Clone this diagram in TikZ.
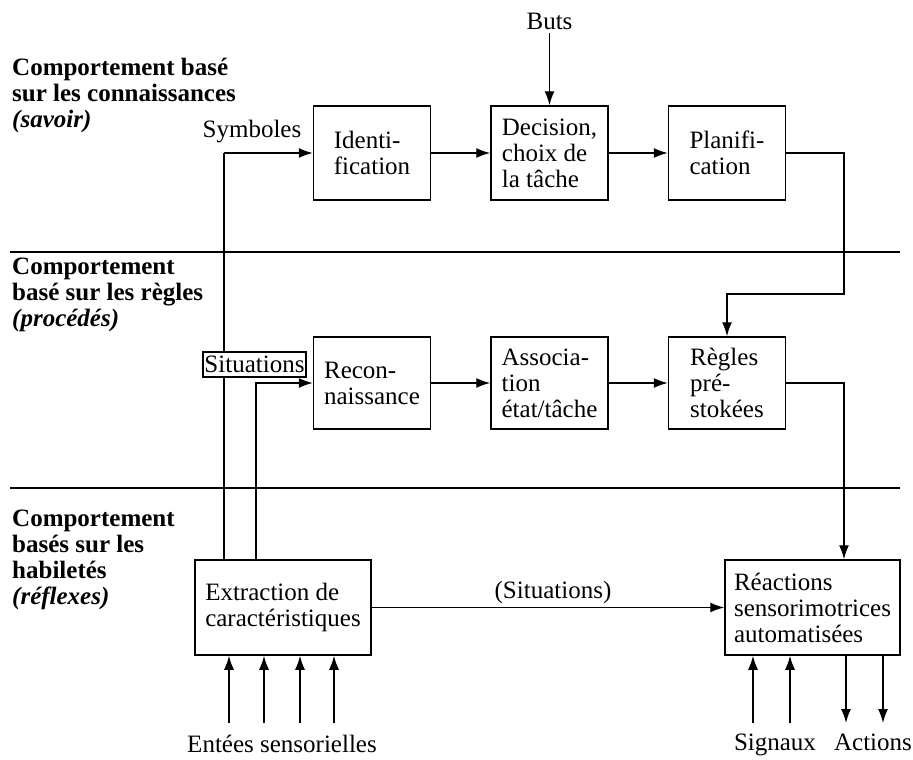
\documentclass[tikz,border=0pt]{standalone}
\usepackage{fontspec}
\setmainfont{Liberation Serif}
\usetikzlibrary{positioning, arrows.meta}

\begin{document}
\begin{tikzpicture}[x=1pt, y=-1pt,
    font=\fontsize{25}{26}\selectfont,
    box/.style={draw, line width=1.5pt, minimum width=117pt, minimum height=94pt, inner sep=0pt, align=left},
    flow/.style={line width=1.4pt, -{Latex[length=14pt,width=10pt]}},
    wire/.style={line width=1.4pt},
    level/.style={font=\fontsize{25}{26}\selectfont\bfseries, align=left, anchor=north west, inner sep=0pt}]
    \useasboundingbox (0,0) rectangle (913,760);

    % levels of behaviour
    \node [level] (savoir) at (12,58) {Comportement basé\\sur les connaissances\\\textit{(savoir)}};
    \node [level] (procedes) at (12,258) {Comportement\\basé sur les règles\\\textit{(procédés)}};
    \node [level] (reflexes) at (12,510) {Comportement\\basés sur les\\habiletés\\\textit{(réflexes)}};
    \draw [wire] (10,252) -- (900,252);
    \draw [wire] (10,488) -- (900,488);

    % knowledge row
    \node [box] (ident) at (372,153) {Identi-\\fication};
    \node [box, right=59pt of ident] (decision) {Decision,\\choix de\\la tâche};
    \node [box, right=59pt of decision] (planif) {Planifi-\\cation};
    \node [above=72pt of decision, inner sep=3pt] (buts) {Buts};

    % rules row
    \node [box, minimum height=92pt] (recon) at (372,383) {Recon-\\naissance};
    \node [box, minimum height=92pt, right=59pt of recon] (assoc) {Associa-\\tion\\état/tâche};
    \node [box, minimum height=92pt, right=59pt of assoc] (regles) {Règles\\pré-\\stokées};

    % skills row
    \node [box, minimum width=176pt, minimum height=95pt] (extract) at (283,607.5) {Extraction de\\caractéristiques};
    \node [box, minimum width=175pt, minimum height=95pt] (reac) at (812.5,607.5) {Réactions\\sensorimotrices\\automatisées};

    \coordinate (sym) at (224,153);
    \coordinate (ex2) at (256,560);
    \coordinate (c1) at (844,294);
    \node [anchor=base] (symlbl) at (252,137) {Symboles};

    \draw [wire] (sym) -- (sym |- extract.north);
    \draw [flow] (sym) -- (ident.west);
    \draw [flow] (ex2) |- (recon.west);
    \node [draw, fill=white, line width=1.4pt, minimum width=103pt, minimum height=25pt, inner sep=0pt] (sit) at (254.5,364.5) {Situations};

    \draw [flow] (buts) -- (decision);
    \draw [flow] (ident) -- (decision);
    \draw [flow] (decision) -- (planif);
    \draw [flow] (planif.east) -| (c1) -| (regles.north);
    \draw [flow] (recon) -- (assoc);
    \draw [flow] (assoc) -- (regles);
    \draw [flow] (regles.east) -| (c1 |- reac.north);
    \draw [flow] (extract) -- node[above, inner sep=3pt, xshift=5pt] (sitlbl) {(Situations)} (reac);

    % sensory inputs
    \foreach \x [count=\i] in {229,264,300,334} {
        \coordinate (in\i) at (\x,723);
        \draw [flow] (in\i) -- (in\i |- extract.south);
    }
    \node [anchor=base] (entrees) at (282,752) {Entées sensorielles};

    % signals and actions
    \foreach \x [count=\i] in {753,790} {
        \coordinate (sig\i) at (\x,723);
        \draw [flow] (sig\i) -- (sig\i |- reac.south);
    }
    \foreach \x [count=\i] in {846,883} {
        \coordinate (act\i) at (\x,723);
        \draw [flow] (act\i |- reac.south) -- (act\i);
    }
    \node [anchor=base] (signaux) at (775,750) {Signaux};
    \node [anchor=base] (actions) at (873,750) {Actions};
\end{tikzpicture}
\end{document}
